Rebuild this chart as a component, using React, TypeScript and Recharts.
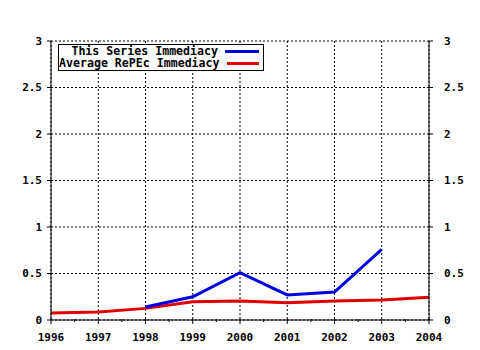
import { CartesianGrid, Legend, Line, LineChart, XAxis, YAxis } from "recharts";

const years = [1996, 1997, 1998, 1999, 2000, 2001, 2002, 2003, 2004];
const seriesImmediacy = [null, null, 0.14, 0.25, 0.51, 0.27, 0.3, 0.76, null];
const averageImmediacy = [0.075, 0.085, 0.125, 0.195, 0.205, 0.185, 0.205, 0.215, 0.245];
const yTicks = [0, 0.5, 1, 1.5, 2, 2.5, 3];

const SERIES_NAME = "This Series Immediacy";
const AVERAGE_NAME = "Average RePEc Immediacy";

const data = years.map((year, i) => ({
  year,
  series: seriesImmediacy[i],
  average: averageImmediacy[i],
}));

// year ticks plus the half-year minor ticks between them
const minorTicks = years.flatMap((y) => [y, y + 0.5]).filter((t) => t <= years[years.length - 1]);

const FONT = "DejaVu Sans Mono";
const textStyle = { fontFamily: FONT, fontWeight: 700, fontSize: 11, fill: "#000" };

const legendItems = [
  { name: SERIES_NAME, color: "#0000e0" },
  { name: AVERAGE_NAME, color: "#e00000" },
];

function BottomTick(props: any) {
  const { x, y, payload } = props;
  const major = Number.isInteger(payload.value);
  return (
    <g>
      <line x1={x} x2={x} y1={y - 1} y2={y + (major ? 4 : 2)} stroke="#000" />
      {major && (
        <text x={x} y={y + 21} textAnchor="middle" {...textStyle}>
          {payload.value}
        </text>
      )}
    </g>
  );
}

function TopTick(props: any) {
  const { x, y, payload } = props;
  const major = Number.isInteger(payload.value);
  return <line x1={x} x2={x} y1={y} y2={y + (major ? 5 : 3)} stroke="#000" />;
}

function LegendBox() {
  return (
    <div
      style={{
        border: "1px solid #000",
        background: "#fff",
        width: 204,
        height: 25,
        fontFamily: FONT,
        fontWeight: 700,
        fontSize: 11.6,
        lineHeight: "13px",
        color: "#000",
      }}
    >
      {legendItems.map((item) => (
        <div key={item.name} style={{ display: "flex", alignItems: "center", justifyContent: "flex-end", height: 12.5 }}>
          <span style={{ whiteSpace: "pre" }}>{item.name}</span>
          <span style={{ display: "inline-block", width: 34, height: 3, background: item.color, margin: "0 4px 0 7px" }} />
        </div>
      ))}
    </div>
  );
}

export default function App() {
  return (
    <div style={{ position: "absolute", left: 0, top: 0, background: "#fff" }}>
      <LineChart width={480} height={350} data={data} margin={{ top: 41, right: 0, bottom: 0, left: 0 }}>
        <XAxis xAxisId="grid" dataKey="year" type="number" domain={[1996, 2004]} ticks={years} hide />
        <CartesianGrid xAxisId="grid" yAxisId="left" stroke="#000" strokeDasharray="2 2" />
        <XAxis
          dataKey="year"
          type="number"
          domain={[1996, 2004]}
          ticks={minorTicks}
          interval={0}
          height={30}
          tickSize={0}
          tickMargin={0}
          tickLine={false}
          axisLine={{ stroke: "#000" }}
          tick={<BottomTick />}
        />
        <XAxis
          xAxisId="top"
          orientation="top"
          dataKey="year"
          type="number"
          domain={[1996, 2004]}
          ticks={minorTicks}
          interval={0}
          height={0}
          tickSize={0}
          tickMargin={0}
          tickLine={false}
          axisLine={{ stroke: "#000" }}
          tick={<TopTick />}
        />
        <YAxis
          yAxisId="left"
          domain={[0, 3]}
          ticks={yTicks}
          interval={0}
          width={51}
          tickSize={4}
          tickMargin={5}
          axisLine={{ stroke: "#000" }}
          tickLine={{ stroke: "#000" }}
          tick={textStyle}
        />
        <YAxis
          yAxisId="right"
          orientation="right"
          dataKey="average"
          type="number"
          domain={[0, 3]}
          allowDataOverflow
          ticks={yTicks}
          interval={0}
          width={51}
          tickSize={4}
          tickMargin={11}
          axisLine={{ stroke: "#000" }}
          tickLine={{ stroke: "#000" }}
          tick={textStyle}
        />
        <Line
          yAxisId="left"
          type="linear"
          dataKey="average"
          name={AVERAGE_NAME}
          stroke="#e00000"
          strokeWidth={3}
          dot={false}
          isAnimationActive={false}
        />
        <Line
          yAxisId="left"
          type="linear"
          dataKey="series"
          name={SERIES_NAME}
          stroke="#0000e0"
          strokeWidth={3}
          dot={false}
          isAnimationActive={false}
        />
        <Legend
          layout="vertical"
          align="center"
          verticalAlign="middle"
          content={<LegendBox />}
          wrapperStyle={{ left: 58, top: 44, width: 206 }}
        />
      </LineChart>
    </div>
  );
}
